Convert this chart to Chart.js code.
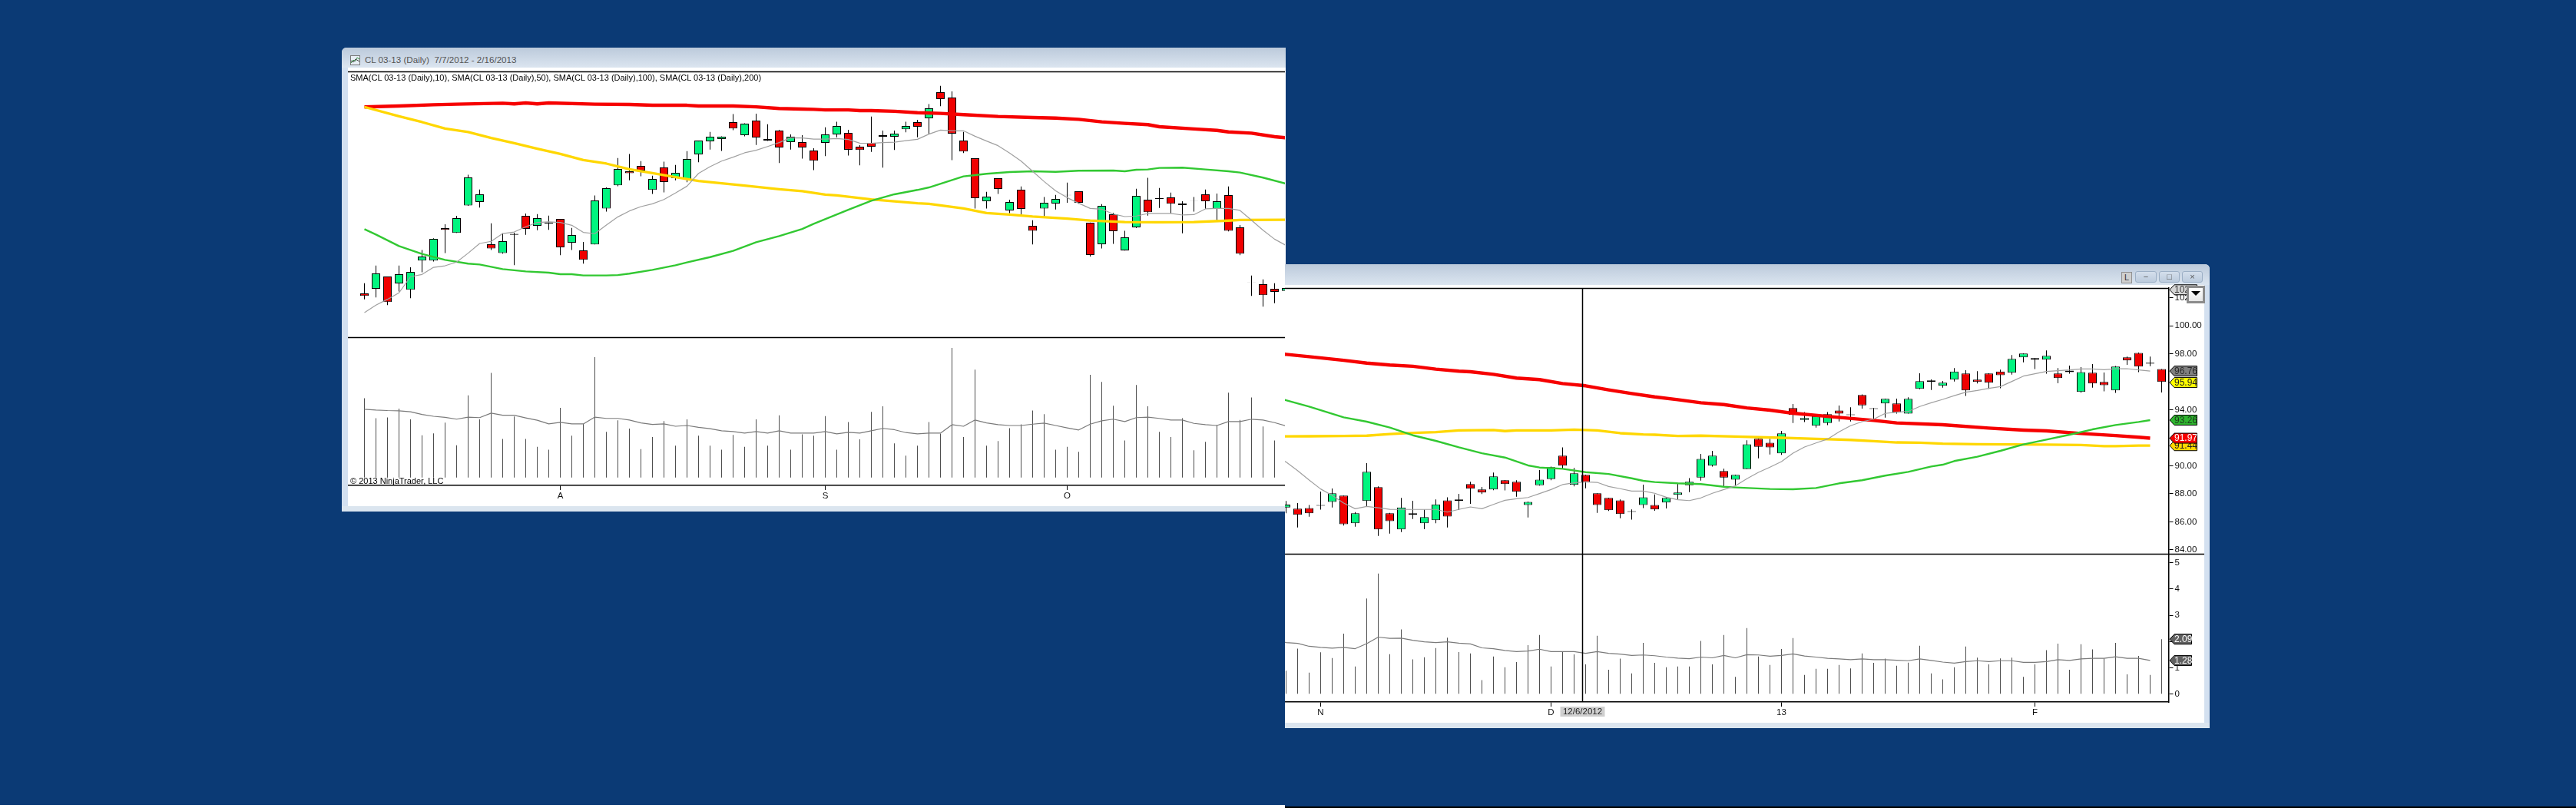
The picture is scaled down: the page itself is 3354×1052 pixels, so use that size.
<!DOCTYPE html>
<html>
<head>
<meta charset="utf-8">
<title>CL 03-13 (Daily)</title>
<script src="https://cdn.jsdelivr.net/npm/chart.js@4/dist/chart.umd.min.js"></script>
<style>
html, body { margin: 0; padding: 0; background: #0b3a75; overflow: hidden; }
body { position: relative; width: 3354px; height: 1052px; font-family: "Liberation Sans", Arial, sans-serif; color: #000; }
.box { position: absolute; }
canvas { position: absolute; }
.band { background: linear-gradient(#bccadb, #dbe5f0); }
.edge { background: #d3e0f0; }
.foot { background: #dbe5ef; }
.txt { position: absolute; white-space: pre; line-height: 14px; }
.winbtn { position: absolute; top: 353px; height: 13px; border: 1px solid #9db0c6; border-radius: 3px; background: linear-gradient(#d4dfec, #bccbdd); font-size: 11px; line-height: 13px; text-align: center; color: #555; z-index: 5; }
</style>
</head>
<body>

<!-- left window -->
<div class="box edge" style="left:445px;top:62px;width:1229px;height:604px;border-radius:6px 0 0 0;"></div>
<div class="box band" style="left:445px;top:62px;width:1229px;height:26px;border-radius:6px 0 0 0;"></div>
<div class="box" style="left:453px;top:88px;width:1221px;height:571px;background:#fff;"></div>
<div class="box foot" style="left:445px;top:659px;width:1229px;height:7px;"></div>
<svg class="box" style="left:456px;top:72px;" width="14" height="14"><rect x="0.5" y="0.5" width="12" height="12" fill="#e8eef5" stroke="#777"/><polyline points="1,10 4,6 6,8 9,3 12,5" fill="none" stroke="#2a8a3a"/><polyline points="1,7 4,9 7,5 12,8" fill="none" stroke="#444"/></svg>
<div class="txt" id="leftTitle" style="left:475px;top:71px;font-size:11.6px;color:#555;">CL 03-13 (Daily)  7/7/2012 - 2/16/2013</div>

<!-- right window -->
<div class="box edge" style="left:1673px;top:344px;width:1204px;height:604px;border-radius:0 6px 0 0;"></div>
<div class="box band" style="left:1673px;top:344px;width:1204px;height:27px;border-radius:0 6px 0 0;"></div>
<div class="box" style="left:1673px;top:371px;width:1197px;height:570px;background:#fff;"></div>
<div class="box foot" style="left:1673px;top:941px;width:1204px;height:7px;"></div>
<div class="box" style="left:1673px;top:1050px;width:1681px;height:2px;background:#000;"></div>
<div class="box" style="left:0;top:1048px;width:1673px;height:4px;background:#fff;"></div>

<canvas id="leftPrice" style="left:453px;top:87px;z-index:2;"></canvas>
<canvas id="leftVolume" style="left:453px;top:439px;z-index:2;"></canvas>
<canvas id="rightPrice" style="left:1673px;top:369px;z-index:2;"></canvas>
<canvas id="rightVolume" style="left:1673px;top:721px;z-index:2;"></canvas>

<div class="txt" style="left:456px;top:94px;font-size:11px;z-index:3;">SMA(CL 03-13 (Daily),10), SMA(CL 03-13 (Daily),50), SMA(CL 03-13 (Daily),100), SMA(CL 03-13 (Daily),200)</div>
<div class="txt" style="left:456px;top:619px;font-size:11px;z-index:3;">© 2013 NinjaTrader, LLC</div>

<div class="winbtn" style="left:2762px;width:12px;top:354px;background:#cfcfcf;border-color:#8f8f8f;color:#333;border-radius:0;">L</div>
<div class="winbtn" style="left:2780px;width:26px;">&#8722;</div>
<div class="winbtn" style="left:2811px;width:25px;">&#9633;</div>
<div class="winbtn" style="left:2841px;width:25px;">&#215;</div>
<div class="box" style="left:2847px;top:372px;width:18px;height:17px;border:3px solid #8c8c8c;background:linear-gradient(#fff,#e6e6e6);z-index:5;">
  <div style="position:absolute;left:3px;top:4px;width:0;height:0;border-left:6px solid transparent;border-right:6px solid transparent;border-top:6px solid #000;"></div>
</div>

<script>
// one reading per bar, 0 = first bar of the contract view
var openValues = [
  86.85,87.18,88.05,87.56,87.11,89.19,89.19,91.51,91.16,93.13,
  93.37,90.36,89.73,91.09,92.38,91.67,91.90,92.16,90.46,89.92,
  90.34,92.91,94.56,95.56,95.94,94.23,95.84,95.07,94.98,96.77,
  97.70,97.86,99.07,98.14,99.18,97.75,98.47,97.64,97.64,97.04,
  97.59,98.19,98.30,97.31,97.59,98.03,98.03,98.56,99.07,99.34,
  101.21,100.82,97.75,96.49,93.42,95.07,92.77,94.25,91.67,92.91,
  93.26,93.87,94.14,91.89,90.36,92.49,89.92,91.56,93.53,93.65,
  93.70,93.15,93.47,93.92,92.88,93.86,91.56,87.66,87.51,87.18,
  87.03,86.94,86.99,87.21,87.43,87.87,85.90,87.49,88.48,86.61,
  85.46,86.61,85.90,86.12,87.54,87.49,88.70,88.31,88.31,88.97,
  88.86,87.20,88.62,89.06,90.72,88.64,89.35,88.04,87.71,87.54,
  86.77,87.21,87.21,87.38,87.93,88.62,89.17,90.01,89.63,89.02,
  89.77,91.93,91.65,90.89,94.12,93.28,92.86,93.06,93.95,93.67,
  95.05,94.11,94.45,94.45,93.73,95.49,95.98,95.71,96.15,96.59,
  96.15,96.59,96.73,96.64,97.74,97.68,97.57,96.59,96.80,95.27,
  96.64,95.98,95.38,97.74,98.06,97.35,96.91
];
var closeValues = [
  86.67,88.27,86.23,88.22,88.38,89.48,90.74,91.38,92.22,95.12,
  93.92,90.06,90.58,91.03,91.45,92.22,91.84,90.14,91.01,89.24,
  93.48,94.36,95.73,95.43,95.62,95.01,94.80,95.45,96.44,97.75,
  98.03,98.03,98.61,98.96,97.97,97.86,97.26,98.03,97.26,96.31,
  98.19,98.79,97.10,97.08,97.31,98.14,98.25,98.79,98.74,100.05,
  100.71,98.25,96.97,93.64,93.75,94.30,93.37,92.88,91.32,93.31,
  93.59,93.85,93.31,89.59,93.09,91.29,90.85,93.81,92.64,93.59,
  93.24,93.26,93.45,93.42,93.42,91.32,89.68,87.64,86.72,86.96,
  87.23,86.50,86.61,87.15,88.04,85.83,86.61,89.57,85.46,86.06,
  87.03,86.50,86.34,87.25,86.39,87.60,88.37,88.09,89.24,88.70,
  88.15,87.43,89.02,89.90,90.01,89.46,88.84,87.21,86.83,86.56,
  86.71,87.76,86.89,87.71,88.09,88.86,90.50,90.72,89.17,89.35,
  91.54,91.36,91.32,92.31,93.63,93.41,93.55,93.68,93.72,93.61,
  94.32,94.05,94.78,93.79,94.78,96.04,96.09,95.93,96.73,95.38,
  95.98,95.93,96.47,97.63,98.01,97.57,97.85,96.26,96.68,96.69,
  95.87,95.76,97.08,97.52,97.08,97.29,95.98
];
var highValues = [
  87.58,88.84,88.05,88.84,88.71,89.94,90.78,91.78,92.38,95.31,
  94.26,91.85,91.14,91.18,92.55,92.51,92.40,92.16,91.52,90.52,
  93.83,94.41,96.51,96.79,96.29,95.25,96.24,96.02,97.00,97.75,
  98.37,98.06,99.64,98.98,99.67,98.92,98.52,98.19,98.14,97.21,
  98.70,99.09,98.52,97.43,99.47,98.47,98.47,99.09,99.23,100.35,
  101.66,101.26,98.37,96.49,94.10,95.07,93.53,94.48,92.07,93.72,
  93.88,94.76,94.14,91.91,93.22,92.60,91.31,94.32,95.09,94.37,
  94.04,93.42,93.72,94.26,93.97,94.48,91.73,88.13,87.85,87.58,
  87.49,87.34,87.21,88.16,88.38,87.87,86.70,90.19,88.53,86.65,
  87.71,87.51,86.87,87.60,87.75,88.00,88.86,88.49,89.52,88.99,
  88.97,87.45,89.70,89.95,91.32,89.85,89.37,88.04,87.71,87.60,
  86.89,88.66,87.96,87.76,88.71,89.13,90.85,91.07,89.79,89.37,
  91.82,91.93,91.93,92.49,94.41,93.84,93.68,93.84,94.30,94.18,
  95.10,94.12,94.79,94.79,94.89,96.60,96.16,96.06,96.97,96.82,
  96.75,96.60,96.86,97.90,98.01,97.70,98.23,96.97,97.15,97.04,
  97.26,96.66,97.13,97.79,98.08,97.79,96.91
];
var lowValues = [
  86.43,86.56,86.01,86.98,86.50,88.35,89.13,89.72,91.16,93.09,
  92.97,89.95,89.68,88.86,91.03,91.36,91.38,89.57,89.95,88.97,
  90.34,92.69,94.50,94.92,95.20,93.94,94.06,94.92,94.78,96.20,
  97.11,97.02,98.50,98.05,97.44,97.72,96.15,97.11,96.46,95.65,
  96.64,97.99,96.69,95.98,96.95,95.82,97.08,98.34,97.99,98.25,
  100.20,96.35,96.86,92.91,92.91,93.95,92.58,92.44,90.34,92.33,
  92.84,93.31,93.24,89.48,90.06,90.39,89.90,91.51,92.40,92.95,
  92.55,91.14,92.68,92.88,92.05,91.27,89.57,86.67,85.90,86.15,
  86.61,85.60,86.37,86.87,87.03,85.74,85.66,87.07,85.00,85.17,
  85.28,86.21,85.48,85.90,85.60,86.85,87.29,87.98,88.26,88.24,
  87.80,86.32,88.59,88.97,89.75,88.53,88.40,86.65,86.78,86.26,
  86.16,86.98,86.80,86.96,87.62,88.13,88.95,89.95,88.49,88.62,
  89.77,90.54,90.81,90.78,93.06,93.13,92.73,92.91,93.17,93.17,
  94.08,93.31,93.44,93.72,93.72,95.47,95.41,95.58,96.02,94.98,
  95.87,95.49,95.53,96.51,97.39,96.90,96.57,95.89,96.57,95.22,
  95.58,95.31,95.20,97.21,96.68,97.11,95.23
];
var volumeValues = [
  3.02,2.26,2.29,2.62,2.21,1.61,1.68,2.09,1.23,3.13,
  2.21,3.98,1.47,2.32,1.47,1.17,1.06,2.65,1.59,2.04,
  4.58,1.74,2.18,1.86,1.08,1.54,2.15,1.21,2.21,1.59,
  1.21,1.06,1.62,1.17,2.21,1.21,2.37,1.06,1.64,1.59,
  2.34,1.06,2.11,1.45,2.50,2.71,1.30,0.83,1.21,2.11,
  1.67,4.93,1.54,4.11,1.21,1.39,1.88,2.02,2.55,2.41,
  1.06,1.17,0.98,3.91,3.64,2.73,1.41,3.52,2.71,1.74,
  1.54,2.26,1.04,1.36,2.00,3.23,2.19,3.05,1.94,1.41,
  0.89,1.73,0.82,1.59,1.37,2.30,1.05,3.64,4.59,1.52,
  2.46,1.32,1.40,1.75,2.15,1.60,1.55,0.53,1.43,1.02,
  1.22,1.86,2.25,1.05,1.63,1.51,1.13,2.22,0.93,1.35,
  0.79,1.95,1.19,1.02,1.05,1.05,2.02,1.13,2.25,0.66,
  2.51,1.43,1.11,1.72,2.13,0.73,0.96,0.96,1.11,0.98,
  1.55,1.19,1.35,1.08,1.20,1.84,0.79,0.56,1.02,1.81,
  1.39,1.13,1.36,1.39,0.66,1.13,1.67,1.92,0.93,1.90,
  1.70,1.36,1.95,0.75,1.45,0.73,2.09
];
var volumeAverage = [
  2.60,2.57,2.55,2.54,2.50,2.40,2.33,2.29,2.22,2.30,
  2.28,2.45,2.37,2.37,2.27,2.18,2.04,2.10,2.04,2.04,
  2.30,2.25,2.25,2.19,2.08,2.02,2.04,1.95,1.98,1.91,
  1.86,1.78,1.75,1.69,1.75,1.69,1.78,1.69,1.69,1.69,
  1.75,1.66,1.72,1.69,1.78,1.87,1.82,1.71,1.66,1.69,
  1.69,2.01,1.95,2.19,2.08,2.01,1.98,1.98,2.03,2.07,
  1.98,1.89,1.81,2.03,2.16,2.22,2.13,2.28,2.30,2.25,
  2.19,2.19,2.06,2.01,1.98,2.13,2.13,2.22,2.19,2.09,
  1.96,1.93,1.82,1.78,1.75,1.78,1.73,1.92,2.17,2.12,
  2.13,2.05,1.99,1.96,1.99,1.94,1.91,1.76,1.73,1.66,
  1.62,1.64,1.71,1.62,1.62,1.62,1.55,1.62,1.55,1.52,
  1.47,1.49,1.46,1.41,1.37,1.35,1.41,1.38,1.47,1.38,
  1.50,1.49,1.44,1.47,1.53,1.45,1.41,1.36,1.34,1.31,
  1.34,1.31,1.31,1.29,1.27,1.34,1.28,1.22,1.18,1.24,
  1.27,1.24,1.27,1.27,1.21,1.21,1.24,1.31,1.28,1.34,
  1.36,1.36,1.42,1.36,1.36,1.28
];
var sma10Values = [
  85.48,86.01,86.43,86.89,88.04,88.20,88.71,88.82,89.08,89.72,
  90.41,90.56,91.12,91.23,91.60,91.91,91.95,91.91,91.71,91.20,
  91.11,91.73,92.31,92.73,93.04,93.24,93.55,94.01,94.50,95.41,
  95.89,96.29,96.57,96.88,97.06,97.33,97.61,97.95,97.94,97.86,
  97.86,97.90,97.83,97.57,97.55,97.61,97.64,97.75,97.84,98.21,
  98.50,98.45,98.45,98.06,97.72,97.39,96.86,96.29,95.56,94.83,
  94.16,93.68,93.28,92.91,92.86,92.51,92.33,92.37,92.55,92.55,
  92.55,92.44,92.47,92.88,92.91,92.91,92.77,92.07,91.36,90.72,
  90.27,89.66,88.99,88.35,87.89,87.34,86.94,87.10,87.01,86.90,
  86.89,86.89,86.89,86.89,86.70,86.89,87.07,86.94,87.25,87.54,
  87.65,87.74,88.02,88.31,88.66,88.79,88.86,88.82,88.53,88.37,
  88.20,88.20,88.04,87.76,87.58,87.52,87.71,88.04,88.31,88.57,
  89.08,89.53,89.90,90.30,90.90,91.34,91.63,91.91,92.42,92.86,
  93.15,93.33,93.74,93.83,93.88,94.23,94.50,94.74,95.01,95.25,
  95.38,95.53,95.65,96.02,96.40,96.57,96.73,96.79,96.84,96.91,
  96.91,96.86,96.93,96.93,96.84,96.76
];
// the slower averages were read at the bars where the line visibly bends
var sma50Bars = [0,1,3,5,7,9,10,12,14,16,17,18,19,21,22,23,25,27,28,30,32,34,36,38,39,42,44,46,48,49,52,53,54,56,58,60,62,65,66,67,68,69,71,73,75,76,78,80,82,85,87,89,91,93,95,97,99,101,102,104,106,108,110,111,112,114,116,118,119,122,124,126,128,130,132,134,136,137,138,140,142,144,146,148,150,152,154,155];
var sma50Values = [91.43,91.05,90.23,89.66,89.24,88.97,88.91,88.58,88.42,88.33,88.22,88.22,88.13,88.13,88.16,88.26,88.53,88.86,89.06,89.44,89.88,90.50,90.94,91.45,91.82,92.82,93.46,93.92,94.23,94.41,95.20,95.29,95.38,95.51,95.56,95.52,95.60,95.62,95.56,95.67,95.69,95.80,95.82,95.69,95.56,95.47,95.11,94.68,94.23,93.46,93.15,92.73,92.18,91.78,91.32,90.90,90.59,90.03,89.88,89.79,89.55,89.42,89.11,88.93,88.84,88.75,88.70,88.51,88.46,88.35,88.33,88.42,88.75,88.97,89.30,89.57,89.95,90.08,90.34,90.65,91.07,91.53,91.87,92.22,92.60,92.91,93.13,93.26];
var sma100Bars = [0,3,5,7,9,11,13,15,17,19,21,23,25,27,29,31,33,36,38,40,41,44,46,48,49,52,54,56,58,61,63,66,69,72,75,76,80,82,85,87,89,91,93,95,98,99,100,103,105,107,109,111,112,114,116,119,123,126,129,131,133,135,137,140,143,146,149,151,152,154,155];
var sma100Values = [100.15,99.49,99.07,98.61,98.36,97.94,97.57,97.17,96.80,96.36,96.11,95.71,95.43,95.14,94.87,94.70,94.54,94.28,94.14,93.90,93.84,93.55,93.42,93.28,93.24,92.91,92.58,92.47,92.33,92.18,92.05,91.94,91.93,91.94,92.04,92.09,92.10,92.11,92.13,92.15,92.27,92.35,92.40,92.53,92.55,92.48,92.53,92.53,92.58,92.53,92.33,92.24,92.22,92.13,92.15,92.09,92.00,91.93,91.85,91.76,91.67,91.65,91.58,91.54,91.53,91.51,91.49,91.40,91.40,91.45,91.44];
var sma200Bars = [0,3,6,8,12,13,14,15,16,20,23,25,28,29,32,34,36,38,39,40,42,43,44,46,48,50,52,55,58,60,62,64,66,68,69,72,74,75,77,79,80,82,85,87,89,91,93,95,96,98,100,102,104,106,108,110,112,114,116,118,120,122,124,127,131,133,137,141,144,146,149,152,154,155];
var sma200Values = [100.15,100.22,100.31,100.35,100.42,100.37,100.44,100.37,100.44,100.35,100.33,100.27,100.27,100.22,100.22,100.16,100.04,100.00,99.98,99.94,99.94,99.89,99.89,99.84,99.74,99.69,99.60,99.47,99.40,99.36,99.27,99.09,98.98,98.89,98.74,98.58,98.48,98.37,98.28,98.03,97.95,97.79,97.53,97.33,97.19,97.10,96.90,96.75,96.71,96.53,96.26,96.15,95.87,95.71,95.42,95.16,94.92,94.72,94.50,94.37,94.13,93.97,93.75,93.53,93.24,93.06,92.93,92.69,92.55,92.49,92.31,92.16,92.04,91.97];

var monthBars = [17, 40, 61, 83, 103, 123, 145];
var monthLabels = ['A', 'S', 'O', 'N', 'D', '13', 'F'];
var priceTicks = [84, 86, 88, 90, 92, 94, 96, 98, 100, 102];
var volumeTicks = [0, 1, 2, 3, 4, 5];

var priceTagValues = [102.56, 96.76, 95.94, 93.26, 91.44, 91.97];
var volumeTagValues = [2.09, 1.28];
var crossBar = 105.7;
var crossDate = '12/6/2012';

var barGreen = '#00f57f';
var barRed = '#f00000';

Chart.defaults.font.family = '"Liberation Sans", Arial, sans-serif';
Chart.defaults.font.size = 11.5;
Chart.defaults.color = '#111';

function candleColors() {
  return openValues.map(function (o, i) {
    var diff = closeValues[i] - o;
    if (Math.abs(diff) < 0.1) return '#000';
    return diff > 0 ? barGreen : barRed;
  });
}

function seriesPoints(bars, values) {
  return values.map(function (v, i) { return { x: bars ? bars[i] : i, y: v }; });
}

function lineSet(bars, values, color, width) {
  return {
    type: 'line', data: seriesPoints(bars, values), borderColor: color, borderWidth: width,
    pointRadius: 0, tension: 0, borderJoinStyle: 'round', order: 1
  };
}

function priceSets() {
  var wicks = openValues.map(function (o, i) { return { x: i, y: [lowValues[i], highValues[i]] }; });
  var bodies = openValues.map(function (o, i) { return { x: i, y: [o, closeValues[i]] }; });
  return [
    { data: wicks, backgroundColor: '#000', barThickness: 1, grouped: false, order: 3, inflateAmount: 0 },
    { data: bodies, backgroundColor: candleColors(), borderColor: '#000', borderWidth: 1, borderSkipped: false,
      barThickness: 11, grouped: false, order: 2, inflateAmount: 0 },
    lineSet(null, sma10Values, '#a0a0a0', 1.2),
    lineSet(sma50Bars, sma50Values, '#32c832', 2.4),
    lineSet(sma100Bars, sma100Values, '#ffd700', 3.3),
    lineSet(sma200Bars, sma200Values, '#f60000', 4.4)
  ];
}

function volumeSets() {
  return [
    { data: seriesPoints(null, volumeValues), backgroundColor: '#4e4e4e', barThickness: 1, grouped: false, order: 2, inflateAmount: 0 },
    lineSet(null, volumeAverage, '#7a7a7a', 1.2)
  ];
}

function drawTag(ctx, area, y, right, text, fill, ink) {
  var tip = area.right + 1.5;
  ctx.beginPath();
  ctx.moveTo(tip, y);
  ctx.lineTo(tip + 6, y - 6.5);
  ctx.lineTo(right, y - 6.5);
  ctx.lineTo(right, y + 6.5);
  ctx.lineTo(tip + 6, y + 6.5);
  ctx.closePath();
  ctx.fillStyle = fill;
  ctx.fill();
  ctx.strokeStyle = '#000';
  ctx.lineWidth = 1;
  ctx.stroke();
  ctx.fillStyle = ink;
  ctx.textAlign = 'left';
  ctx.textBaseline = 'middle';
  ctx.font = '12px "Liberation Sans"';
  ctx.fillText(text, tip + 6, y + 0.5);
}

// top and bottom rules of the pane, crosshair, value tags
function paneDecor(info) {
  return {
    id: 'paneDecor',
    afterDraw: function (chart) {
      var ctx = chart.ctx, a = chart.chartArea;
      ctx.save();
      ctx.strokeStyle = '#000';
      ctx.lineWidth = 1.5;
      if (info.rules) {
        ctx.beginPath();
        ctx.moveTo(a.left, a.top + 0.5);
        ctx.lineTo(a.right, a.top + 0.5);
        ctx.moveTo(a.left, a.bottom + 0.5);
        ctx.lineTo(chart.width, a.bottom + 0.5);
        ctx.stroke();
      }
      if (info.cross) {
        var cx = Math.round(chart.scales.x.getPixelForValue(crossBar)) + 0.5;
        ctx.beginPath();
        ctx.moveTo(cx, a.top);
        ctx.lineTo(cx, a.bottom);
        ctx.stroke();
        if (info.crossLabel) {
          ctx.fillStyle = '#cfcfcf';
          ctx.fillRect(cx - 29, a.bottom + 6, 58, 13);
          ctx.fillStyle = '#222';
          ctx.font = '11.5px "Liberation Sans"';
          ctx.textAlign = 'center';
          ctx.textBaseline = 'middle';
          ctx.fillText(crossDate, cx, a.bottom + 13);
        }
      }
      (info.tags || []).forEach(function (t) {
        drawTag(ctx, a, chart.scales.y.getPixelForValue(t.value), t.right, t.value.toFixed(2), t.fill, t.ink);
      });
      ctx.restore();
    }
  };
}

function makePane(id, cfg) {
  var canvas = document.getElementById(id);
  canvas.width = cfg.width;
  canvas.height = cfg.height;
  return new Chart(canvas.getContext('2d'), {
    type: 'bar',
    data: { datasets: cfg.datasets },
    plugins: [paneDecor(cfg.info)],
    options: {
      responsive: false,
      animation: false,
      events: [],
      layout: { padding: { top: cfg.padTop, bottom: cfg.padBottom, left: 0, right: 0 } },
      plugins: { legend: { display: false }, tooltip: { enabled: false }, title: { display: false } },
      scales: {
        x: {
          type: 'linear', offset: false, min: cfg.xMin, max: cfg.xMax, display: cfg.xAxis,
          border: { color: '#000', width: 1.5 },
          grid: { offset: false, drawOnChartArea: false, tickColor: '#000', tickLength: 6 },
          ticks: { autoSkip: false, maxRotation: 0, padding: 1, color: '#111',
            callback: function (v) { return monthLabels[monthBars.indexOf(v)]; } },
          afterBuildTicks: function (s) {
            s.ticks = monthBars.filter(function (b) { return b > s.min && b < s.max; })
              .map(function (b) { return { value: b }; });
          },
          afterFit: function (s) {
            s.paddingLeft = 0; s.paddingRight = 0;
            s.height = cfg.xAxis ? 27 : 0;
          }
        },
        y: {
          position: 'right', min: cfg.yMin, max: cfg.yMax, display: cfg.yAxis,
          border: { color: '#000', width: 1.5 },
          grid: { drawOnChartArea: false, tickColor: '#000', tickLength: 6 },
          ticks: { autoSkip: false, padding: 2, color: '#111', callback: cfg.tickText },
          afterBuildTicks: function (s) {
            s.ticks = cfg.yTicks.map(function (v) { return { value: v }; });
          },
          afterFit: function (s) {
            s.paddingTop = 0; s.paddingBottom = 0;
            s.width = cfg.yAxis ? 46.5 : 0;
          }
        }
      }
    }
  });
}

function priceLabel(v) { return v.toFixed(2); }
function volumeLabel(v) { return String(v); }

var leftRange = { xMin: (453 - 474.5) / 15, xMax: (1673 - 474.5) / 15 };
var rightRange = { xMin: (1673 - 474.5) / 15, xMax: (2823.5 - 474.5) / 15 };
var priceRange = { yMin: 83.726, yMax: 102.685 };
var volumeRange = { yMin: -0.301, yMax: 5.342 };

var priceTagStyles = [
  { fill: '#d6d6d6', ink: '#333' }, { fill: '#808080', ink: '#2a2a2a' }, { fill: '#ffff00', ink: '#222' },
  { fill: '#2fb52f', ink: '#1c3a1c' }, { fill: '#ffd700', ink: '#222' }, { fill: '#f60000', ink: '#fff' }
];

makePane('leftPrice', {
  width: 1220, height: 355, padTop: 6, padBottom: 3, xMin: leftRange.xMin, xMax: leftRange.xMax,
  xAxis: false, yAxis: false, yMin: priceRange.yMin, yMax: priceRange.yMax, yTicks: priceTicks, tickText: priceLabel,
  datasets: priceSets(), info: { rules: true }
});
makePane('leftVolume', {
  width: 1220, height: 220, padTop: 0, padBottom: 0, xMin: leftRange.xMin, xMax: leftRange.xMax,
  xAxis: true, yAxis: false, yMin: volumeRange.yMin, yMax: volumeRange.yMax, yTicks: volumeTicks, tickText: volumeLabel,
  datasets: volumeSets(), info: {}
});
makePane('rightPrice', {
  width: 1197, height: 355, padTop: 6, padBottom: 3, xMin: rightRange.xMin, xMax: rightRange.xMax,
  xAxis: false, yAxis: true, yMin: priceRange.yMin, yMax: priceRange.yMax, yTicks: priceTicks, tickText: priceLabel,
  datasets: priceSets(),
  info: {
    rules: true, cross: true,
    tags: priceTagValues.map(function (v, i) {
      return { value: v, right: 1187.5, fill: priceTagStyles[i].fill, ink: priceTagStyles[i].ink };
    })
  }
});
makePane('rightVolume', {
  width: 1197, height: 220, padTop: 0, padBottom: 0, xMin: rightRange.xMin, xMax: rightRange.xMax,
  xAxis: true, yAxis: true, yMin: volumeRange.yMin, yMax: volumeRange.yMax, yTicks: volumeTicks, tickText: volumeLabel,
  datasets: volumeSets(),
  info: {
    cross: true, crossLabel: true,
    tags: volumeTagValues.map(function (v) { return { value: v, right: 1180.5, fill: '#606060', ink: '#fff' }; })
  }
});
</script>
</body>
</html>
